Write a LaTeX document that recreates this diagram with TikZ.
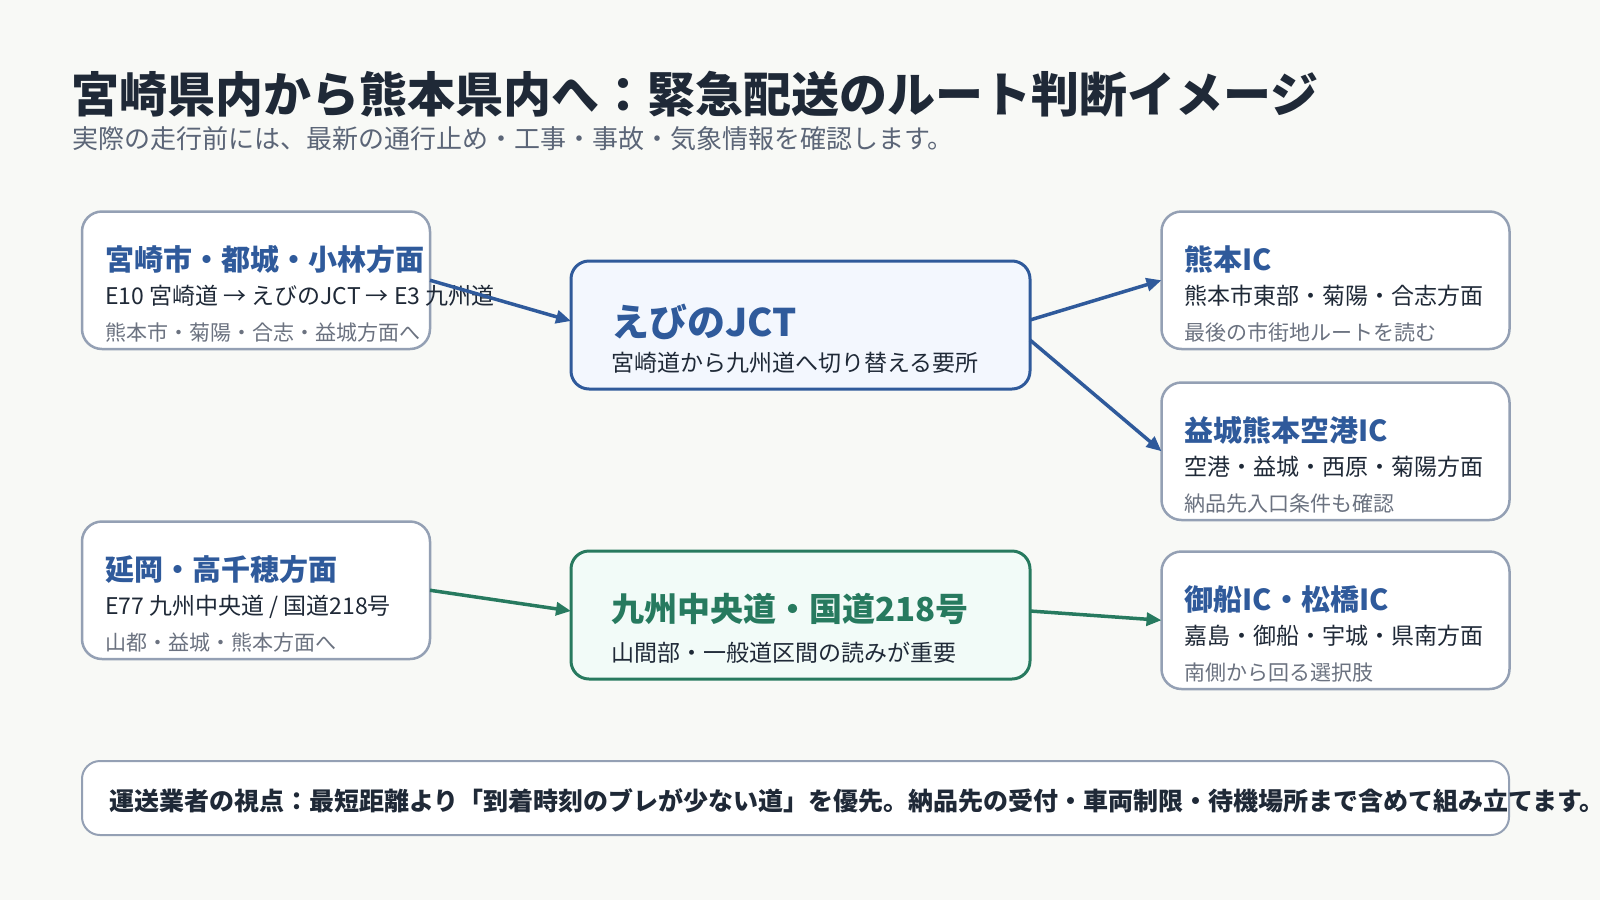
\documentclass[tikz,border=0pt]{standalone}
\usepackage{fontspec}
\setmainfont{Noto Sans CJK JP}
\usetikzlibrary{arrows.meta,calc}
\definecolor{bg}{HTML}{F8F9F6}
\definecolor{boxline}{HTML}{94A0B4}
\definecolor{navy}{HTML}{2F5A9B}
\definecolor{teal}{HTML}{277A5F}
\definecolor{ink}{HTML}{1F2937}
\definecolor{muted}{HTML}{6B7280}
\definecolor{subgrey}{HTML}{5B6577}
\definecolor{jctfill}{HTML}{F3F7FE}
\definecolor{grnfill}{HTML}{F2FBF8}
\newcommand{\fs}[1]{\fontsize{#1}{#1}\selectfont}
\begin{document}
\begin{tikzpicture}[x=1pt,y=-1pt,
  every node/.style={inner sep=0pt,outer sep=0pt},
  sbox/.style={draw=boxline,line width=2.5pt,fill=white,rounded corners=20pt,
    minimum width=348pt,minimum height=137.5pt,anchor=north west},
  bigbox/.style={line width=3pt,rounded corners=18pt,
    minimum width=459pt,minimum height=128pt,anchor=north west},
  notebox/.style={draw=boxline,line width=2pt,fill=white,rounded corners=18pt,
    minimum width=1427pt,minimum height=74pt,anchor=north west},
  btitle/.style={anchor=base west,text=navy,font=\fs{29}\bfseries},
  bline/.style={anchor=base west,text=ink,font=\fs{23}},
  bnote/.style={anchor=base west,text=muted,font=\fs{21}},
  barrow/.style={draw=navy,line width=3.5pt,-{Triangle[length=15pt,width=13pt]}},
  garrow/.style={draw=teal,line width=3.5pt,-{Triangle[length=15pt,width=13pt]}}
]
\useasboundingbox (0,0) rectangle (1600,900);
\fill[bg] (0,0) rectangle (1600,900);

% heading
\node[anchor=base west,text=ink,font=\fs{48}\bfseries] (title) at (71,112)
  {宮崎県内から熊本県内へ：緊急配送のルート判断イメージ};
\node[anchor=base west,text=subgrey,font=\fs{26}] (subtitle) at (72,148.5)
  {実際の走行前には、最新の通行止め・工事・事故・気象情報を確認します。};

% boxes
\node[sbox] (a) at (82,211.5) {};
\node[sbox] (k) at (1161.5,211.5) {};
\node[sbox] (m) at (1161.5,382.5) {};
\node[sbox] (n) at (82,521.5) {};
\node[sbox] (f) at (1161.5,551.5) {};
\node[bigbox,draw=navy,fill=jctfill] (jct) at (571,261) {};
\node[bigbox,draw=teal,fill=grnfill] (q) at (571,551) {};
\node[notebox] (note) at (82,761) {};

% box A
\node[btitle] (a1) at ($(a.north west)+(23,58.5)$) {宮崎市・都城・小林方面};
\node[bline] (a2) at ($(a.north west)+(23,92.5)$) {E10 宮崎道 → えびのJCT → E3 九州道};
\node[bnote] (a3) at ($(a.north west)+(23,128.5)$) {熊本市・菊陽・合志・益城方面へ};

% box K
\node[btitle] (k1) at ($(k.north west)+(23,58.5)$) {熊本IC};
\node[bline] (k2) at ($(k.north west)+(23,92.5)$) {熊本市東部・菊陽・合志方面};
\node[bnote] (k3) at ($(k.north west)+(23,128.5)$) {最後の市街地ルートを読む};

% box M
\node[btitle] (m1) at ($(m.north west)+(23,58.5)$) {益城熊本空港IC};
\node[bline] (m2) at ($(m.north west)+(23,92.5)$) {空港・益城・西原・菊陽方面};
\node[bnote] (m3) at ($(m.north west)+(23,128.5)$) {納品先入口条件も確認};

% box N
\node[btitle] (n1) at ($(n.north west)+(23,58.5)$) {延岡・高千穂方面};
\node[bline] (n2) at ($(n.north west)+(23,92.5)$) {E77 九州中央道 / 国道218号};
\node[bnote] (n3) at ($(n.north west)+(23,128.5)$) {山都・益城・熊本方面へ};

% box F
\node[btitle] (f1) at ($(f.north west)+(23,58.5)$) {御船IC・松橋IC};
\node[bline] (f2) at ($(f.north west)+(23,92.5)$) {嘉島・御船・宇城・県南方面};
\node[bnote] (f3) at ($(f.north west)+(23,128.5)$) {南側から回る選択肢};

% JCT
\node[anchor=base west,text=navy,font=\fs{38}\bfseries] (j1) at ($(jct.north west)+(40,75)$) {えびのJCT};
\node[bline] (j2) at ($(jct.north west)+(40,110)$) {宮崎道から九州道へ切り替える要所};

% Kyushu chuo
\node[anchor=base west,text=teal,font=\fs{33}\bfseries] (q1) at ($(q.north west)+(40,70.5)$) {九州中央道・国道218号};
\node[bline] (q2) at ($(q.north west)+(40,110)$) {山間部・一般道区間の読みが重要};

% note
\node[anchor=base west,text=ink,font=\fs{25}\bfseries] (note1) at ($(note.north west)+(27,49)$)
  {運送業者の視点：最短距離より「到着時刻のブレが少ない道」を優先。納品先の受付・車両制限・待機場所まで含めて組み立てます。};

% arrows
\draw[barrow] (a.east) -- ([yshift=4pt]jct.west);
\draw[barrow] ([yshift=5pt]jct.east) -- (k.west);
\draw[barrow] ([yshift=-15pt]jct.east) -- (m.west);
\draw[garrow] (n.east) -- ([yshift=4pt]q.west);
\draw[garrow] ([yshift=4pt]q.east) -- (f.west);
\end{tikzpicture}
\end{document}
